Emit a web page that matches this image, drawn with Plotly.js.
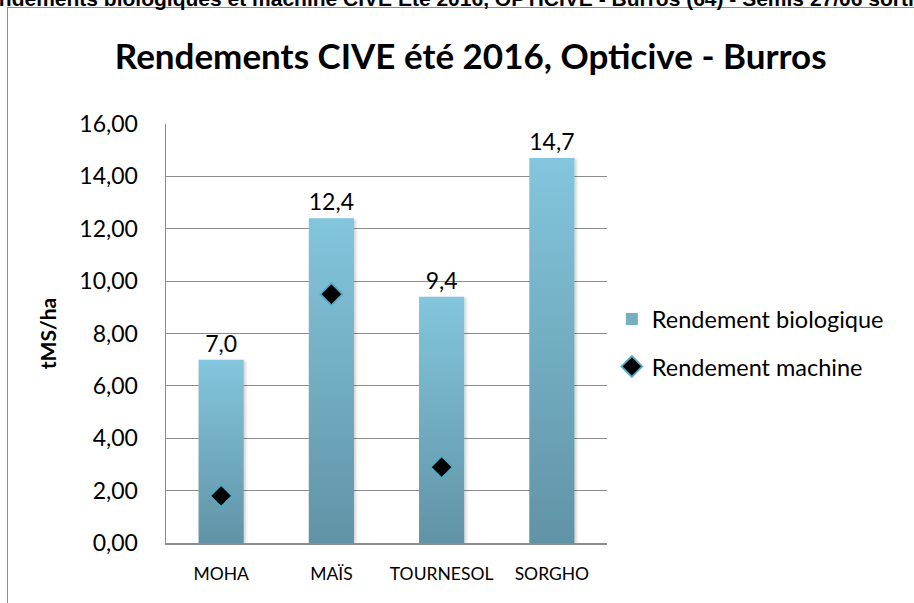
<!DOCTYPE html>
<html><head><meta charset="utf-8">
<script src="https://cdn.plot.ly/plotly-3.0.1.min.js"></script>
<style>
html,body{margin:0;padding:0;background:#fff;overflow:hidden;}
#wrap{position:relative;width:914px;height:603px;overflow:hidden;}
#frame{position:absolute;left:7px;top:7px;width:1000px;height:700px;border:1.5px solid #8c8c8c;box-sizing:border-box;}
#cut{position:absolute;left:-28px;top:-13px;white-space:nowrap;font-family:"Liberation Sans",Arial,sans-serif;font-weight:bold;font-size:21px;line-height:24px;color:#000;}
#chart{position:absolute;left:0;top:0;width:914px;height:603px;}
</style></head>
<body><div id="wrap"><div id="frame"></div><div id="chart"></div><div id="cut">Rendements biologiques et machine CIVE Eté 2016, OPTICIVE - Burros (64) - Semis 27/06 sortie 10/10</div></div>
<script>
const categories = ["MOHA", "MAÏS", "TOURNESOL", "SORGHO"];
const rendementBiologique = [7.0, 12.4, 9.4, 14.7];
const rendementMachine = [1.8, 9.5, 2.9, null];
const yTicks = [0, 2, 4, 6, 8, 10, 12, 14, 16];
const seriesNames = ["Rendement biologique", "Rendement machine"];

const FONT = "Lato, 'Open Sans', sans-serif";
const traces = [
  {type:"bar", x:categories, y:rendementBiologique, name:seriesNames[0], legendgroup:"a",
   marker:{color:"#74AFC4"}, texttemplate:"%{y:.1f}", textposition:"outside",
   textfont:{family:FONT, size:23, color:"#000"}, cliponaxis:false, hoverinfo:"skip"},
  {type:"scatter", mode:"markers", x:categories, y:rendementMachine, name:seriesNames[1], legendgroup:"b",
   marker:{symbol:"diamond", size:17, color:"#000", line:{color:"#52AAC6", width:1.8}}, hoverinfo:"skip"}
];
const layout = {
  width:914, height:603, paper_bgcolor:"rgba(0,0,0,0)", plot_bgcolor:"rgba(0,0,0,0)",
  margin:{l:166, r:307, t:124, b:60},
  separators:", ",
  font:{family:FONT, color:"#000"},
  title:{text:"<b>Rendements CIVE été 2016, Opticive - Burros</b>", x:0.515, xanchor:"center", y:1-57/603, yanchor:"middle", font:{family:FONT, size:35, color:"#000"}},
  bargap:0.59,
  xaxis:{type:"category", showline:true, linecolor:"#8c8c8c", linewidth:1.5, tickfont:{family:FONT, size:17.5}, ticks:"", ticklabelstandoff:14, fixedrange:true},
  yaxis:{range:[0,16], tickvals:yTicks, tickformat:".2f", showline:true, linecolor:"#8c8c8c", linewidth:1.5,
         gridcolor:"#8c8c8c", gridwidth:1.2, zeroline:false, tickfont:{family:FONT, size:23}, ticks:"", ticklabelstandoff:22,
         title:{text:"<b>tMS/ha</b>", font:{family:FONT, size:21}, standoff:17}},
  legend:{x:1.011, xanchor:"left", y:0.477, yanchor:"middle", font:{family:FONT, size:23.5}, tracegroupgap:14, bgcolor:"rgba(0,0,0,0)"},
  showlegend:true
};
Plotly.newPlot("chart", traces, layout, {staticPlot:true}).then(function(gd){
  const svg = gd.querySelector(".main-svg");
  const ns = "http://www.w3.org/2000/svg";
  let defs = svg.querySelector("defs");
  const g = document.createElementNS(ns, "linearGradient");
  g.setAttribute("id","barGrad"); g.setAttribute("x1","0"); g.setAttribute("y1","0"); g.setAttribute("x2","0"); g.setAttribute("y2","1");
  [["0","#83C6DD"],["1","#6193A6"]].forEach(function(s){const st=document.createElementNS(ns,"stop");st.setAttribute("offset",s[0]);st.setAttribute("stop-color",s[1]);g.appendChild(st);});
  defs.appendChild(g);
  const f = document.createElementNS(ns, "filter");
  f.setAttribute("id","barShadow"); f.setAttribute("x","-20%"); f.setAttribute("y","-5%"); f.setAttribute("width","140%"); f.setAttribute("height","110%");
  const ds = document.createElementNS(ns, "feDropShadow");
  ds.setAttribute("dx","2"); ds.setAttribute("dy","1"); ds.setAttribute("stdDeviation","1.5"); ds.setAttribute("flood-color","#000"); ds.setAttribute("flood-opacity","0.18");
  f.appendChild(ds); defs.appendChild(f);
  gd.querySelectorAll(".trace.bars .point path").forEach(function(p){p.style.fill="url(#barGrad)"; p.setAttribute("filter","url(#barShadow)");});
  gd.querySelectorAll(".legend path.legendbar").forEach(function(p){p.style.fill="url(#barGrad)";});
});
</script></body></html>
